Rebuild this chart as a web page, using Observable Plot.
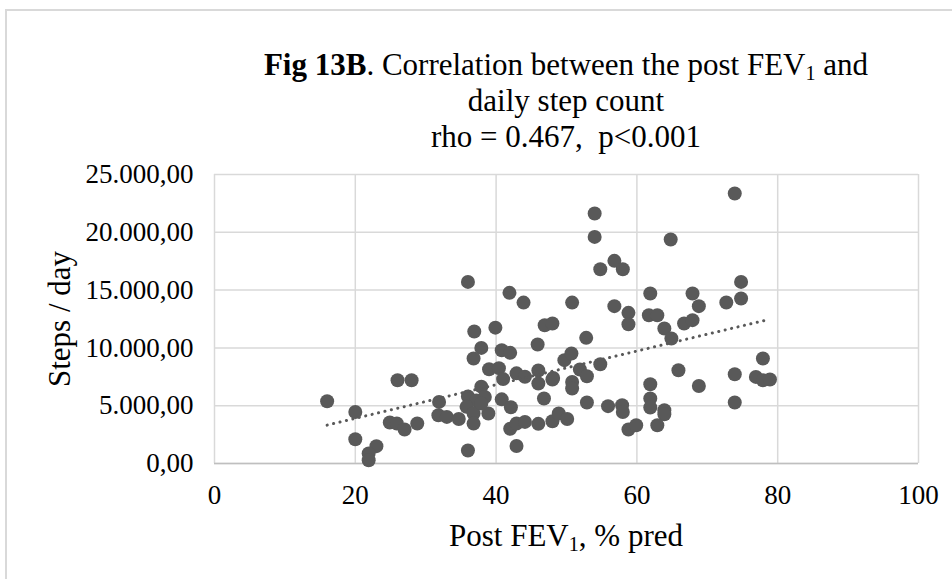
<!DOCTYPE html>
<html>
<head>
<meta charset="utf-8">
<script src="https://cdn.jsdelivr.net/npm/d3@7"></script>
<script src="https://cdn.jsdelivr.net/npm/@observablehq/plot@0.6"></script>
<style>
  html, body { margin: 0; padding: 0; background: #fff; }
  #wrap { position: relative; width: 952px; height: 579px; overflow: hidden; font-family: "Liberation Serif", "Times New Roman", serif; color: #000; }
  #frame { position: absolute; left: 5px; top: 9px; width: 1000px; height: 700px; border: 2px solid #d9d9d9; box-sizing: border-box; }
  #chart { position: absolute; left: 0; top: 0; }
  #title { position: absolute; left: 214px; width: 704px; top: 47px; text-align: center; font-size: 31px; line-height: 36px; }
  #xtitle { position: absolute; left: 214px; width: 704px; top: 518px; text-align: center; font-size: 31px; line-height: 36px; }
  #ytitle { position: absolute; left: 60px; top: 319px; transform: translate(-50%, -50%) rotate(-90deg); white-space: nowrap; font-size: 31px; line-height: 36px; }
  sub { font-size: 65%; vertical-align: -0.25em; line-height: 0; }
</style>
</head>
<body>
<div id="wrap">
  <div id="frame"></div>
  <div id="chart"></div>
  <div id="title"><b>Fig 13B</b>. Correlation between the post FEV<sub>1</sub> and<br>daily step count<br>rho = 0.467,&nbsp; p&lt;0.001</div>
  <div id="xtitle">Post FEV<sub>1</sub>, % pred</div>
  <div id="ytitle">Steps / day</div>
</div>
<script>
// Post FEV1 (% predicted)
const fev = [
  16.0, 20.0, 20.0, 23.0, 21.9, 21.9, 26.0, 28.0, 24.9, 25.9, 27.0, 28.8, 31.9, 31.8, 33.0, 34.7,
  37.9, 36.0, 37.2, 38.4, 35.8, 36.8, 38.9, 37.9, 36.8, 36.0,
  36.0, 41.9, 43.9, 50.8, 36.9, 39.9, 46.9, 48.0, 37.9, 40.8, 42.0, 45.9, 36.8, 39.0, 40.4, 41.0,
  42.9, 44.1, 46.0, 48.1, 49.7, 50.7, 40.8, 42.1, 42.0, 42.9, 44.1, 46.0, 48.0, 48.9, 50.1, 42.9,
  46.0, 48.0, 46.8, 50.8, 50.8, 51.9, 52.9, 52.9, 52.8, 54.8,
  54.0, 54.0, 54.8, 56.8, 58.0, 64.8, 73.9, 74.8, 74.8, 72.7, 61.9, 67.9, 68.8, 56.8, 58.8, 58.8,
  61.7, 62.9, 63.9, 64.9, 66.7, 67.9, 77.9, 65.9, 73.9, 76.9, 77.9, 78.9, 68.8, 61.9, 55.9, 57.9,
  58.0, 61.9, 61.9, 63.9, 63.9, 73.9, 58.8, 59.9, 62.9
];
// Daily step count
const steps = [
  5390, 4460, 2100, 1500, 860, 280, 7200, 7200, 3550, 3460, 2940, 3460, 5330, 4180, 4030, 3850,
  6650, 5800, 5450, 5750, 4900, 4330, 4330, 5190, 3450, 1120,
  15710, 14760, 13920, 13920, 11420, 11750, 11960, 12110, 10000, 9800, 9570, 10300, 9080, 8150, 8250, 7300,
  7800, 7500, 8050, 7400, 8940, 9520, 5550, 4870, 3000, 3460, 3600, 3430, 3650, 4330, 3850, 1520,
  6920, 7270, 5620, 7060, 6490, 8130, 7550, 5280, 10870, 8590,
  21630, 19600, 16810, 17530, 16810, 19380, 23360, 15710, 14270, 13930, 14700, 14700, 13610, 13610, 13030, 12050,
  12830, 12830, 11680, 10810, 12110, 12400, 9080, 8070, 7720, 7490, 7200, 7270, 6710, 6860, 4960, 5040,
  4460, 5620, 4840, 4610, 4260, 5280, 2940, 3310, 3310
];
const xTicks = [0, 20, 40, 60, 80, 100];
const yTicks = [0, 5000, 10000, 15000, 20000, 25000];

const data = fev.map((v, i) => ({fev: v, steps: steps[i]}));
const fmt = d3.formatLocale({decimal: ",", thousands: ".", grouping: [3], currency: ["", ""]}).format(",.2f");

const chart = Plot.plot({
  width: 952,
  height: 579,
  marginLeft: 214,
  marginRight: 34,
  marginTop: 174,
  marginBottom: 116,
  style: {fontFamily: "'Liberation Serif', 'Times New Roman', serif", fontSize: "27px", color: "#000", background: "transparent", overflow: "visible"},
  x: {domain: [0, 100], ticks: xTicks, tickSize: 0, tickPadding: 21, tickFormat: d => String(d), label: null},
  y: {domain: [0, 25000], ticks: yTicks, tickSize: 0, tickPadding: 21, tickFormat: fmt, label: null},
  marks: [
    Plot.gridX(xTicks, {stroke: "#d9d9d9", strokeOpacity: 1, strokeWidth: 1.5}),
    Plot.gridY(yTicks, {stroke: "#d9d9d9", strokeOpacity: 1, strokeWidth: 1.5}),
    Plot.ruleY([0], {stroke: "#bfbfbf", strokeWidth: 1.5}),
    Plot.dot(data, {x: "fev", y: "steps", r: 7, fill: "#595959", stroke: null}),
    Plot.linearRegressionY(data, {x: "fev", y: "steps", ci: 0, stroke: "#595959", strokeWidth: 3, strokeDasharray: "0.1,6.5", strokeLinecap: "round"})
  ]
});
document.getElementById("chart").appendChild(chart);
</script>
</body>
</html>
